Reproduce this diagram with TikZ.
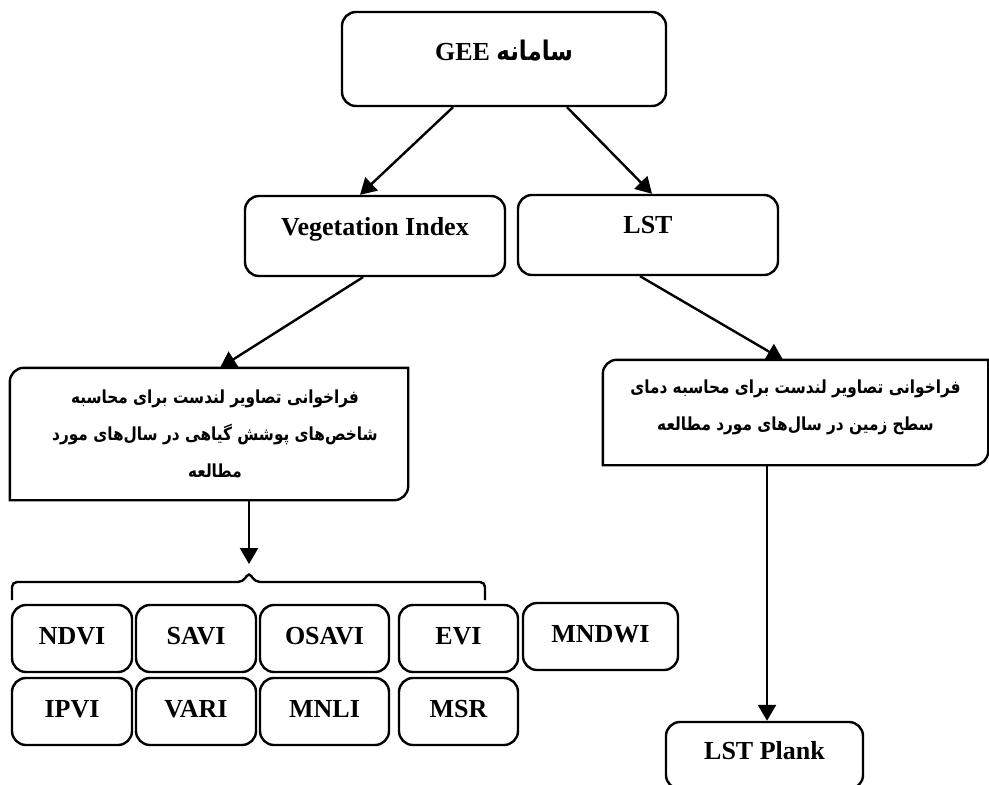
\documentclass[tikz,border=0pt]{standalone}
\usepackage{fontspec}
\setmainfont{Liberation Serif}
\newfontfamily\farsi[Script=Arabic,FakeStretch=0.85]{DejaVu Sans}
\TeXXeTstate=1
\usetikzlibrary{arrows.meta}

\begin{document}
\begin{tikzpicture}[x=1pt,y=-1pt]
\tikzstyle{every node}=[inner sep=0pt]
\tikzstyle{box}=[draw, line width=2.4pt, rounded corners=14pt, font=\bfseries\fontsize{26}{30}\selectfont, text height=17pt, text depth=6pt]
\tikzstyle{callbox}=[align=center, font=\farsi\bfseries\fontsize{18}{37}\selectfont]
\tikzstyle{arrow}=[line width=2.4pt, -{Triangle[length=16pt,width=18pt]}]
\clip (0,0) rectangle (989,785);

% top levels
\node[box, minimum width=324pt, minimum height=94pt, text depth=14pt] (gee) at (504,59) {GEE {\farsi\bfseries\fontsize{27}{30}\selectfont\beginR سامانه\endR}};
\node[box, minimum width=260pt, minimum height=80pt, text depth=18pt] (vi) at (375,236) {Vegetation Index};
\node[box, minimum width=260pt, minimum height=80pt, text depth=20pt] (lst) at (648,235) {LST};

% landsat calls (two corners rounded)
\node[minimum width=398pt, minimum height=132pt] (vicall) at (209,434) {};
\node[minimum width=385pt, minimum height=105pt] (lstcall) at (795.5,412.5) {};
\draw[line width=2.4pt] (vicall.south west) -- ([yshift=-14pt]vicall.north west) arc[start angle=180,end angle=90,radius=14pt] -- (vicall.north east) -- ([yshift=14pt]vicall.south east) arc[start angle=0,end angle=-90,radius=14pt] -- cycle;
\draw[line width=2.4pt] (lstcall.south west) -- ([yshift=-14pt]lstcall.north west) arc[start angle=180,end angle=90,radius=14pt] -- (lstcall.north east) -- ([yshift=14pt]lstcall.south east) arc[start angle=0,end angle=-90,radius=14pt] -- cycle;
\node[callbox] (vitext) at ([xshift=6pt]vicall.center) {\beginR فراخوانی تصاویر لندست برای محاسبه\endR\\\beginR شاخص‌های پوشش گیاهی در سال‌های مورد\endR\\\beginR مطالعه\endR};
\node[callbox] (lsttext) at ([yshift=5pt]lstcall.center) {\beginR فراخوانی تصاویر لندست برای محاسبه دمای\endR\\\beginR سطح زمین در سال‌های مورد مطالعه\endR};

% indices
\node[box, minimum width=120pt, minimum height=67pt] (ndvi) at (72,638.5) {NDVI};
\node[box, minimum width=120pt, minimum height=67pt] (savi) at (196,638.5) {SAVI};
\node[box, minimum width=129pt, minimum height=67pt] (osavi) at (324.5,638.5) {OSAVI};
\node[box, minimum width=119pt, minimum height=67pt] (evi) at (458.5,638.5) {EVI};
\node[box, minimum width=155pt, minimum height=67pt] (mndwi) at (600.5,636.5) {MNDWI};
\node[box, minimum width=120pt, minimum height=67pt] (ipvi) at (72,711.5) {IPVI};
\node[box, minimum width=120pt, minimum height=67pt] (vari) at (196,711.5) {VARI};
\node[box, minimum width=129pt, minimum height=67pt] (mnli) at (324.5,711.5) {MNLI};
\node[box, minimum width=119pt, minimum height=67pt] (msr) at (458.5,711.5) {MSR};
\node[box, minimum width=197pt, minimum height=67pt, text depth=10pt] (plank) at (764.5,755.5) {LST Plank};

% bracket over the indices
\coordinate (bracetop) at (249,564);
\draw[line width=2.4pt, rounded corners=5pt] (12,600) -- (12,582) -- (243,582) -- (249,572) -- (255,582) -- (485,582) -- (485,600);

% connectors
\draw[arrow] ([xshift=-51pt]gee.south) -- ([xshift=-15pt]vi.north);
\draw[arrow] ([xshift=63pt]gee.south) -- ([xshift=4pt]lst.north);
\draw[arrow] ([xshift=-12pt]vi.south) -- ([xshift=11pt]vicall.north);
\draw[arrow] ([xshift=-8pt]lst.south) -- ([xshift=-12.5pt]lstcall.north);
\draw[arrow] ([xshift=40pt]vicall.south) -- (bracetop);
\draw[arrow] ([xshift=-28.5pt]lstcall.south) -- ([xshift=2.5pt]plank.north);
\end{tikzpicture}
\end{document}
